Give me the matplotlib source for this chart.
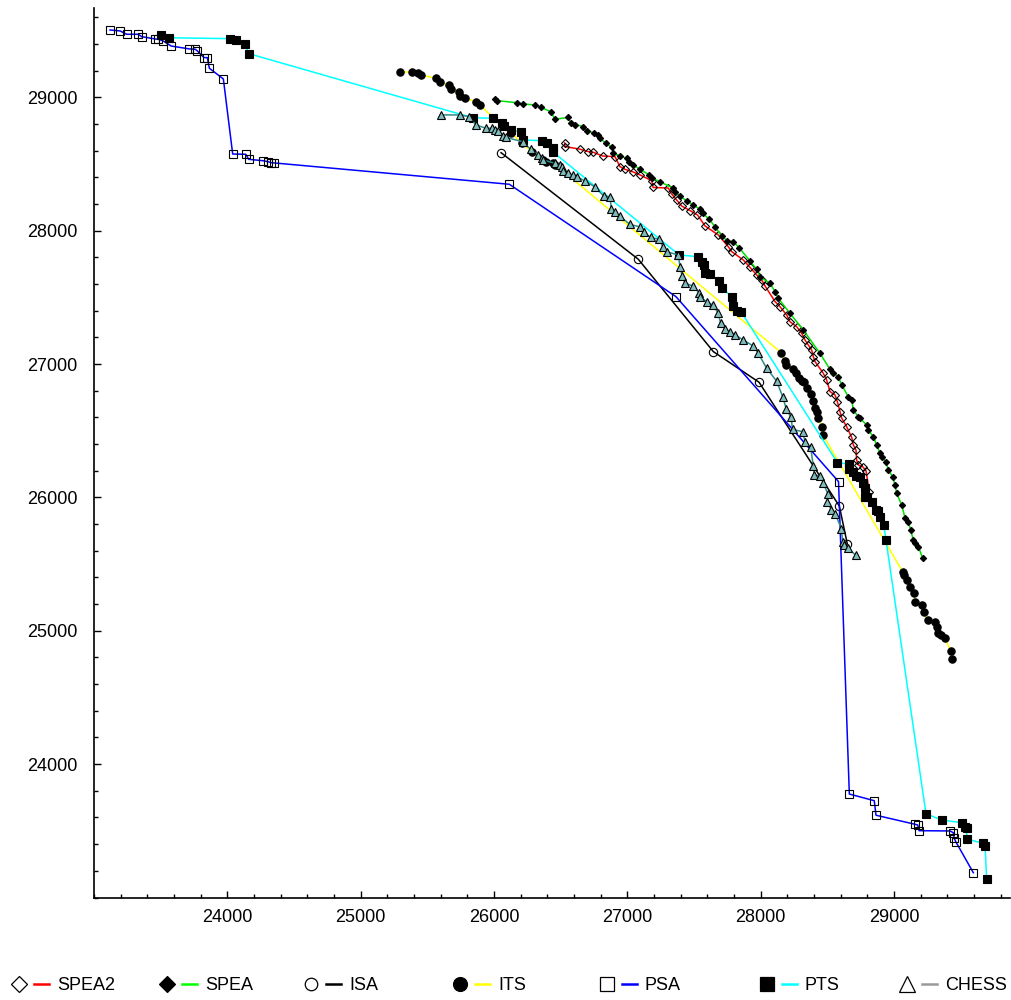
import matplotlib
matplotlib.use("Agg")
import matplotlib.pyplot as plt
from matplotlib.lines import Line2D
from matplotlib.legend_handler import HandlerTuple
from matplotlib.ticker import MultipleLocator

plt.rcParams["font.family"] = ["Liberation Sans", "DejaVu Sans"]

# ---- data ----
spea2_x = [26530, 26533, 26645, 26707, 26745, 26815, 26908, 26945, 26983, 27040,
           27095, 27183, 27193, 27307, 27333, 27370, 27408, 27470, 27526, 27583,
           27682, 27757, 27783, 27870, 27920, 27970, 28008, 28033, 28108, 28145,
           28195, 28220, 28270, 28308, 28333, 28357, 28383, 28395, 28408, 28470,
           28495, 28520, 28558, 28575, 28595, 28608, 28645, 28683, 28695, 28715,
           28720, 28732, 28765, 28790, 28815]
spea2_y = [28659, 28632, 28612, 28594, 28589, 28561, 28556, 28481, 28461, 28443,
           28419, 28376, 28325, 28321, 28276, 28231, 28186, 28152, 28119, 28036,
           27969, 27881, 27844, 27781, 27726, 27669, 27631, 27586, 27469, 27431,
           27369, 27318, 27281, 27231, 27181, 27144, 27106, 27056, 27019, 26931,
           26881, 26794, 26769, 26719, 26644, 26594, 26531, 26450, 26394, 26356,
           26281, 26244, 26231, 26201, 26044]

spea_x = [26008, 26025, 26170, 26220, 26308, 26353, 26425, 26458, 26558, 26578,
          26608, 26671, 26698, 26750, 26782, 26795, 26840, 26885, 26895, 26945,
          26995, 27013, 27043, 27095, 27166, 27183, 27245, 27345, 27358, 27395,
          27445, 27495, 27545, 27565, 27609, 27658, 27708, 27748, 27795, 27840,
          27920, 27970, 27995, 28070, 28108, 28132, 28220, 28320, 28445, 28520,
          28545, 28582, 28608, 28657, 28683, 28695, 28732, 28745, 28795, 28807,
          28845, 28870, 28895, 28908, 28940, 28957, 28990, 29008, 29020, 29058,
          29083, 29107, 29125, 29145, 29158, 29183, 29215]
spea_y = [28986, 28976, 28961, 28951, 28944, 28926, 28893, 28836, 28851, 28805,
          28797, 28782, 28749, 28734, 28719, 28694, 28656, 28625, 28584, 28561,
          28544, 28516, 28494, 28461, 28419, 28396, 28368, 28319, 28294, 28261,
          28224, 28194, 28161, 28131, 28092, 28031, 27961, 27926, 27918, 27871,
          27774, 27711, 27654, 27606, 27544, 27494, 27381, 27256, 27081, 26961,
          26932, 26906, 26844, 26756, 26731, 26656, 26606, 26594, 26544, 26506,
          26456, 26394, 26331, 26306, 26268, 26206, 26156, 26094, 26031, 25944,
          25844, 25818, 25756, 25681, 25661, 25631, 25544]

isa_x = [26053, 27082, 27645, 27988, 28590, 28650]
isa_y = [28586, 27787, 27094, 26864, 25936, 25651]

its_x = [25295, 25383, 25432, 25450, 25565, 25595, 25665, 25675, 25740, 25745,
         25783, 25865, 25895, 25993, 26068, 26128, 26210, 26285, 26370, 26390,
         26445, 26458, 28153, 28183, 28190, 28240, 28265, 28288, 28310, 28325,
         28348, 28378, 28390, 28408, 28425, 28432, 28458, 28465, 29065, 29075,
         29100, 29120, 29150, 29158, 29213, 29225, 29257, 29310, 29320, 29333,
         29350, 29383, 29425, 29437]
its_y = [29191, 29191, 29186, 29169, 29144, 29114, 29094, 29064, 29043, 29011,
         28994, 28968, 28944, 28846, 28786, 28734, 28659, 28591, 28531, 28518,
         28506, 28497, 27087, 27024, 26994, 26961, 26937, 26894, 26874, 26866,
         26819, 26776, 26724, 26669, 26641, 26596, 26531, 26472, 25443, 25419,
         25381, 25331, 25281, 25218, 25193, 25143, 25081, 25068, 25031, 24981,
         24968, 24944, 24851, 24786]

psa_x = [23120, 23195, 23245, 23332, 23358, 23458, 23482, 23515, 23578, 23715,
         23758, 23775, 23825, 23850, 23865, 23970, 24040, 24138, 24160, 24265,
         24303, 24328, 24352, 26115, 27365, 28584, 28665, 28852, 28865, 29158,
         29178, 29188, 29420, 29445, 29452, 29463, 29595]
psa_y = [29506, 29499, 29474, 29474, 29456, 29439, 29436, 29426, 29386, 29364,
         29362, 29349, 29299, 29299, 29219, 29139, 28576, 28574, 28536, 28526,
         28519, 28511, 28509, 28349, 27506, 26119, 23776, 23726, 23617, 23549,
         23544, 23501, 23499, 23486, 23444, 23419, 23186]

pts_x = [23503, 23565, 24020, 24063, 24130, 24163, 25840, 25990, 26058, 26075,
         26128, 26200, 26215, 26362, 26395, 26440, 26445, 27388, 27532, 27558,
         27575, 27583, 27620, 27685, 27708, 27783, 27793, 27825, 27853, 28576,
         28659, 28665, 28689, 28717, 28745, 28768, 28783, 28783, 28800, 28833,
         28867, 28882, 28895, 28923, 28940, 29240, 29358, 29508, 29533, 29545,
         29545, 29670, 29683, 29695]
pts_y = [29469, 29448, 29441, 29431, 29403, 29328, 28848, 28844, 28811, 28786,
         28756, 28743, 28681, 28676, 28656, 28619, 28589, 27819, 27806, 27768,
         27744, 27686, 27676, 27626, 27573, 27506, 27434, 27399, 27393, 26261,
         26251, 26211, 26193, 26161, 26150, 26108, 26069, 26004, 26004, 25968,
         25904, 25899, 25856, 25796, 25681, 23628, 23581, 23561, 23531, 23519,
         23439, 23406, 23388, 23136]

chess_x = [25603, 25745, 25815, 25865, 25940, 25983, 26008, 26032, 26070, 26090,
           26215, 26275, 26332, 26358, 26370, 26458, 26495, 26508, 26520, 26557,
           26590, 26620, 26683, 26754, 26823, 26870, 26880, 26908, 26945, 27020,
           27095, 27125, 27176, 27241, 27265, 27295, 27382, 27395, 27412, 27433,
           27489, 27536, 27545, 27595, 27639, 27680, 27700, 27733, 27770, 27808,
           27870, 27945, 27982, 28045, 28120, 28165, 28192, 28228, 28239, 28315,
           28333, 28375, 28395, 28402, 28447, 28470, 28503, 28501, 28530, 28561,
           28605, 28615, 28626, 28657, 28715]
chess_y = [28869, 28869, 28856, 28794, 28769, 28769, 28756, 28749, 28711, 28701,
           28668, 28611, 28569, 28544, 28531, 28506, 28494, 28481, 28451, 28431,
           28419, 28406, 28374, 28331, 28261, 28256, 28164, 28138, 28108, 28048,
           28029, 27988, 27950, 27936, 27881, 27843, 27819, 27729, 27659, 27606,
           27588, 27537, 27506, 27468, 27444, 27386, 27306, 27261, 27243, 27219,
           27181, 27136, 27081, 26969, 26872, 26756, 26664, 26600, 26510, 26494,
           26418, 26375, 26236, 26169, 26161, 26111, 26026, 25968, 25906, 25876,
           25765, 25666, 25647, 25619, 25565]

names = ["SPEA2", "SPEA", "ISA", "ITS", "PSA", "PTS", "CHESS"]
x_ticks = [24000, 25000, 26000, 27000, 28000, 29000]
y_ticks = [24000, 25000, 26000, 27000, 28000, 29000]

# ---- styles ----
# (marker, plot size, face, line colour in plot, line colour in legend, legend size)
styles = {
    "SPEA2": ("D", 4.4, "none", "#ff0000", "#ff0000", 8),
    "SPEA": ("D", 3.2, "black", "#00e000", "#00ff00", 8),
    "ISA": ("o", 6.0, "none", "black", "black", 9),
    "ITS": ("o", 5.3, "black", "#ffff00", "#ffff00", 10),
    "PSA": ("s", 5.8, "none", "#0000ff", "#0000ff", 10),
    "PTS": ("s", 5.6, "black", "#00ffff", "#00ffff", 10),
    "CHESS": ("^", 5.2, "#7fbcbc", "#2e8b8b", "#999999", 11),
}
series = {
    "SPEA2": (spea2_x, spea2_y),
    "SPEA": (spea_x, spea_y),
    "ISA": (isa_x, isa_y),
    "ITS": (its_x, its_y),
    "PSA": (psa_x, psa_y),
    "PTS": (pts_x, pts_y),
    "CHESS": (chess_x, chess_y),
}

fig = plt.figure(figsize=(10.11, 10.0), dpi=100)
ax = fig.add_axes([0.093, 0.1025, 0.906, 0.8895])

for name in names:
    xs, ys = series[name]
    marker, ms, face, lc, _, _ = styles[name]
    ax.plot(xs, ys, color=lc, lw=1.1, marker=marker, ms=ms, mfc=face,
            mec="black", mew=0.8)

ax.set_xlim(23000, 29870)
ax.set_ylim(23000, 29671)
ax.set_xticks(x_ticks)
ax.set_yticks(y_ticks)
ax.xaxis.set_minor_locator(MultipleLocator(200))
ax.yaxis.set_minor_locator(MultipleLocator(200))
ax.tick_params(which="both", direction="in", width=1.0, colors="black")
ax.tick_params(which="major", length=5)
ax.tick_params(which="minor", length=3)
ax.tick_params(axis="x", labelsize=13, pad=8)
ax.tick_params(axis="y", labelsize=13, pad=12)
for side in ["top", "right"]:
    ax.spines[side].set_visible(False)
for side in ["left", "bottom"]:
    ax.spines[side].set_linewidth(1.2)

# legend along the bottom: marker, short line, label
legend_left = [11.5, 159.5, 303.5, 452.5, 599.5, 759.5, 899.5]
for name, left in zip(names, legend_left):
    marker, _, face, _, llc, lms = styles[name]
    lface = "white" if face == "none" or name == "CHESS" else face
    mk = Line2D([], [], ls="none", marker=marker, ms=lms, mfc=lface,
                mec="black", mew=0.9)
    ln = Line2D([], [], color=llc, lw=1.8)
    fig.legend(handles=[(mk, ln)], labels=[name],
               handler_map={tuple: HandlerTuple(ndivide=None, pad=0.39)},
               loc="center left", bbox_to_anchor=(left / 1011, 0.0145),
               frameon=False, borderpad=0, borderaxespad=0,
               handlelength=2.05, handletextpad=0.47, fontsize=13)

fig.savefig("out.png", dpi=100)
